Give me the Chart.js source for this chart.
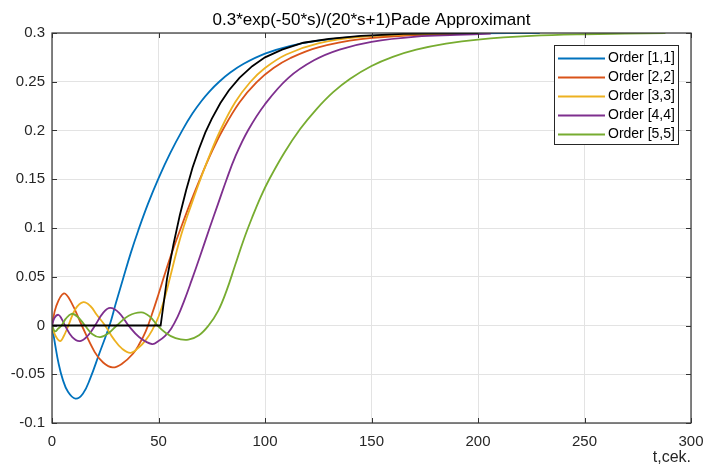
<!DOCTYPE html>
<html>
<head>
<meta charset="utf-8">
<script src="https://cdn.jsdelivr.net/npm/chart.js@4.4.1/dist/chart.umd.min.js"></script>
<style>
  html, body { margin: 0; padding: 0; background: #fff; }
  #wrap { width: 705px; height: 466px; }
</style>
</head>
<body>
<div id="wrap"><canvas id="pade" width="705" height="466"></canvas></div>
<script>
// Chart text
const chartTitle = "0.3*exp(-50*s)/(20*s+1)Pade Approximant";
const xTitle = "t,cek.";
const seriesNames = ["Order [1,1]", "Order [2,2]", "Order [3,3]", "Order [4,4]", "Order [5,5]"];

// Order [1,1]
const tBlue = [0, 1.5, 3, 5, 7.5, 11, 14.5, 18, 22, 27, 30, 33.5, 37, 40.5, 45, 50, 55.5, 61.5, 66, 70, 74, 78.5, 84, 90, 100, 112, 125, 145, 175, 200, 229];
const vBlue = [0, -0.02, -0.038, -0.055, -0.068, -0.075, -0.07, -0.054, -0.03, 0, 0.023, 0.049, 0.0745, 0.0975, 0.1245, 0.151, 0.1768, 0.2014, 0.2176, 0.2298, 0.2402, 0.25, 0.2599, 0.2685, 0.2789, 0.2869, 0.2922, 0.2965, 0.2989, 0.2996, 0.3];

// Order [2,2]
const tOrange = [0, 2, 5.6, 9, 14, 20, 24, 28.5, 33, 38, 41, 44, 47, 50, 53, 56.5, 60.5, 65, 70, 75, 80, 88, 96, 104, 112, 125, 145, 170, 190];
const vOrange = [0, 0.02, 0.033, 0.024, 0, -0.027, -0.038, -0.043, -0.039, -0.029, -0.019, -0.006, 0.012, 0.032, 0.053, 0.076, 0.1, 0.126, 0.153, 0.178, 0.2, 0.2288, 0.2494, 0.264, 0.2744, 0.2853, 0.2937, 0.2978, 0.2991];

// Order [3,3]
const tYellow = [0, 1.5, 3.8, 5.5, 7.7, 11, 14.7, 18, 21, 24.9, 29, 33, 37, 41, 44, 47, 50, 53, 55.5, 58.5, 61.5, 65.5, 69.5, 74, 79, 86, 93, 100, 110, 125, 145, 170, 195];
const vYellow = [0, -0.01, -0.016, -0.011, 0, 0.017, 0.024, 0.02, 0.011, 0, -0.014, -0.024, -0.028, -0.022, -0.015, -0.005, 0.009, 0.029, 0.05, 0.076, 0.099, 0.1245, 0.149, 0.1745, 0.2, 0.2289, 0.2495, 0.2641, 0.278, 0.2894, 0.296, 0.2988, 0.2997];

// Order [4,4]
const tPurple = [0, 1.2, 3, 4.5, 6.1, 9.5, 13.2, 17, 20.2, 24, 27.3, 31.5, 35.9, 41, 47, 50, 53, 56, 59, 62, 65.5, 69.5, 74, 78, 82, 86, 92, 100, 111, 123, 135, 150, 171, 190, 206];
const vPurple = [0, 0.008, 0.011, 0.007, 0, -0.012, -0.016, -0.01, 0, 0.013, 0.018, 0.013, 0, -0.012, -0.019, -0.016, -0.011, -0.003, 0.009, 0.025, 0.046, 0.071, 0.1, 0.125, 0.15, 0.173, 0.2, 0.227, 0.254, 0.272, 0.283, 0.291, 0.2963, 0.298, 0.2993];

// Order [5,5]
const tGreen = [0, 1.4, 3, 4.5, 6.5, 9.2, 12, 15.5, 19, 22.6, 26.5, 30.4, 36, 42, 46, 49.5, 53, 58, 64, 69, 73.5, 78, 82, 86, 90, 94, 98, 102, 109, 116.5, 124, 132, 140, 150, 160, 171, 185, 200, 225, 250, 288];
const vGreen = [0, -0.006, -0.003, 0, 0.007, 0.012, 0.009, 0, -0.009, -0.012, -0.008, 0, 0.01, 0.0135, 0.009, 0, -0.007, -0.013, -0.0145, -0.01, 0, 0.015, 0.036, 0.062, 0.088, 0.111, 0.132, 0.15, 0.177, 0.2015, 0.2215, 0.2393, 0.2531, 0.2662, 0.2756, 0.283, 0.2892, 0.2933, 0.297, 0.2987, 0.3];

// Ideal delayed step (black)
const tExact = [0, 51, 54, 57, 60, 63, 66, 69, 72, 75, 79, 83, 88, 94, 100, 108, 118, 130, 145, 165, 200];
const vExact = [0, 0, 0.048, 0.083, 0.113, 0.139, 0.162, 0.181, 0.198, 0.212, 0.228, 0.241, 0.254, 0.266, 0.275, 0.283, 0.29, 0.294, 0.297, 0.299, 0.3];

const FONT = '"Liberation Sans", Arial, sans-serif';
const colors = ["#0072BD", "#D95319", "#EDB120", "#7E2F8E", "#77AC30"];

function toPoints(ts, vs) {
    return ts.map((t, i) => ({ x: t, y: vs[i] }));
}

const seriesData = [
    toPoints(tBlue, vBlue),
    toPoints(tOrange, vOrange),
    toPoints(tYellow, vYellow),
    toPoints(tPurple, vPurple),
    toPoints(tGreen, vGreen)
];

const datasets = seriesData.map((pts, i) => ({
    label: seriesNames[i],
    data: pts,
    borderColor: colors[i],
    borderWidth: 1.8,
    pointRadius: 0,
    fill: false,
    tension: 0.4,
    order: 5 - i
}));

datasets.push({
    label: "exact",
    data: toPoints(tExact, vExact),
    borderColor: "#000000",
    borderWidth: 1.8,
    pointRadius: 0,
    fill: false,
    tension: 0,
    order: 0
});

// MATLAB-like box, inner ticks, legend and title
const matlabLook = {
    id: "matlabLook",
    afterDatasetsDraw(chart) {
        const ctx = chart.ctx;
        const a = chart.chartArea;
        const xs = chart.scales.x, ys = chart.scales.y;
        ctx.save();
        ctx.strokeStyle = "#333333";
        ctx.lineWidth = 1.2;
        ctx.strokeRect(a.left, a.top, a.right - a.left, a.bottom - a.top);

        // inward ticks
        ctx.lineWidth = 1;
        ctx.beginPath();
        xs.ticks.forEach(t => {
            const px = Math.round(xs.getPixelForValue(t.value)) + 0.5;
            ctx.moveTo(px, a.bottom); ctx.lineTo(px, a.bottom - 5);
            ctx.moveTo(px, a.top); ctx.lineTo(px, a.top + 5);
        });
        ys.ticks.forEach(t => {
            const py = Math.round(ys.getPixelForValue(t.value)) + 0.5;
            ctx.moveTo(a.left, py); ctx.lineTo(a.left + 5, py);
            ctx.moveTo(a.right, py); ctx.lineTo(a.right - 5, py);
        });
        ctx.stroke();

        // legend box
        const lx = 554.5, ly = 45.5, lw = 124, lh = 99;
        ctx.fillStyle = "#ffffff";
        ctx.fillRect(lx, ly, lw, lh);
        ctx.strokeStyle = "#262626";
        ctx.lineWidth = 1;
        ctx.strokeRect(lx, ly, lw, lh);
        ctx.font = "14px " + FONT;
        ctx.textBaseline = "middle";
        ctx.textAlign = "left";
        seriesNames.forEach((name, i) => {
            const ry = 58.5 + i * 19;
            ctx.strokeStyle = colors[i];
            ctx.lineWidth = 1.8;
            ctx.beginPath();
            ctx.moveTo(558, ry);
            ctx.lineTo(605, ry);
            ctx.stroke();
            ctx.fillStyle = "#000000";
            ctx.fillText(name, 608, ry);
        });

        // title
        ctx.font = "17px " + FONT;
        ctx.textAlign = "center";
        ctx.fillStyle = "#000000";
        ctx.fillText(chartTitle, (a.left + a.right) / 2, 20);
        ctx.restore();
    }
};

new Chart(document.getElementById("pade"), {
    type: "line",
    data: { datasets: datasets },
    options: {
        responsive: false,
        animation: false,
        devicePixelRatio: 1,
        layout: { padding: { top: 33, right: 14, left: 0, bottom: 0 } },
        plugins: {
            legend: { display: false },
            tooltip: { enabled: false },
            title: { display: false }
        },
        scales: {
            x: {
                type: "linear",
                min: 0,
                max: 300,
                ticks: {
                    stepSize: 50,
                    padding: 10,
                    color: "#262626",
                    font: { family: FONT, size: 15 },
                    maxRotation: 0
                },
                grid: { color: "#e3e3e3", drawTicks: false },
                border: { display: false },
                title: {
                    display: true,
                    text: xTitle,
                    align: "end",
                    color: "#262626",
                    font: { family: FONT, size: 16, lineHeight: 1 },
                    padding: { top: 0, bottom: 0 }
                },
                afterFit(scale) {
                    scale.height = 43;
                    scale.paddingLeft = 0;
                    scale.paddingRight = 0;
                }
            },
            y: {
                min: -0.1,
                max: 0.3,
                ticks: {
                    stepSize: 0.05,
                    padding: 7,
                    color: "#262626",
                    font: { family: FONT, size: 15 },
                    callback: v => String(+v.toFixed(2))
                },
                grid: { color: "#e3e3e3", drawTicks: false },
                border: { display: false },
                afterFit(scale) {
                    scale.width = 52;
                    scale.paddingTop = 0;
                    scale.paddingBottom = 0;
                }
            }
        }
    },
    plugins: [matlabLook]
});
</script>
</body>
</html>
